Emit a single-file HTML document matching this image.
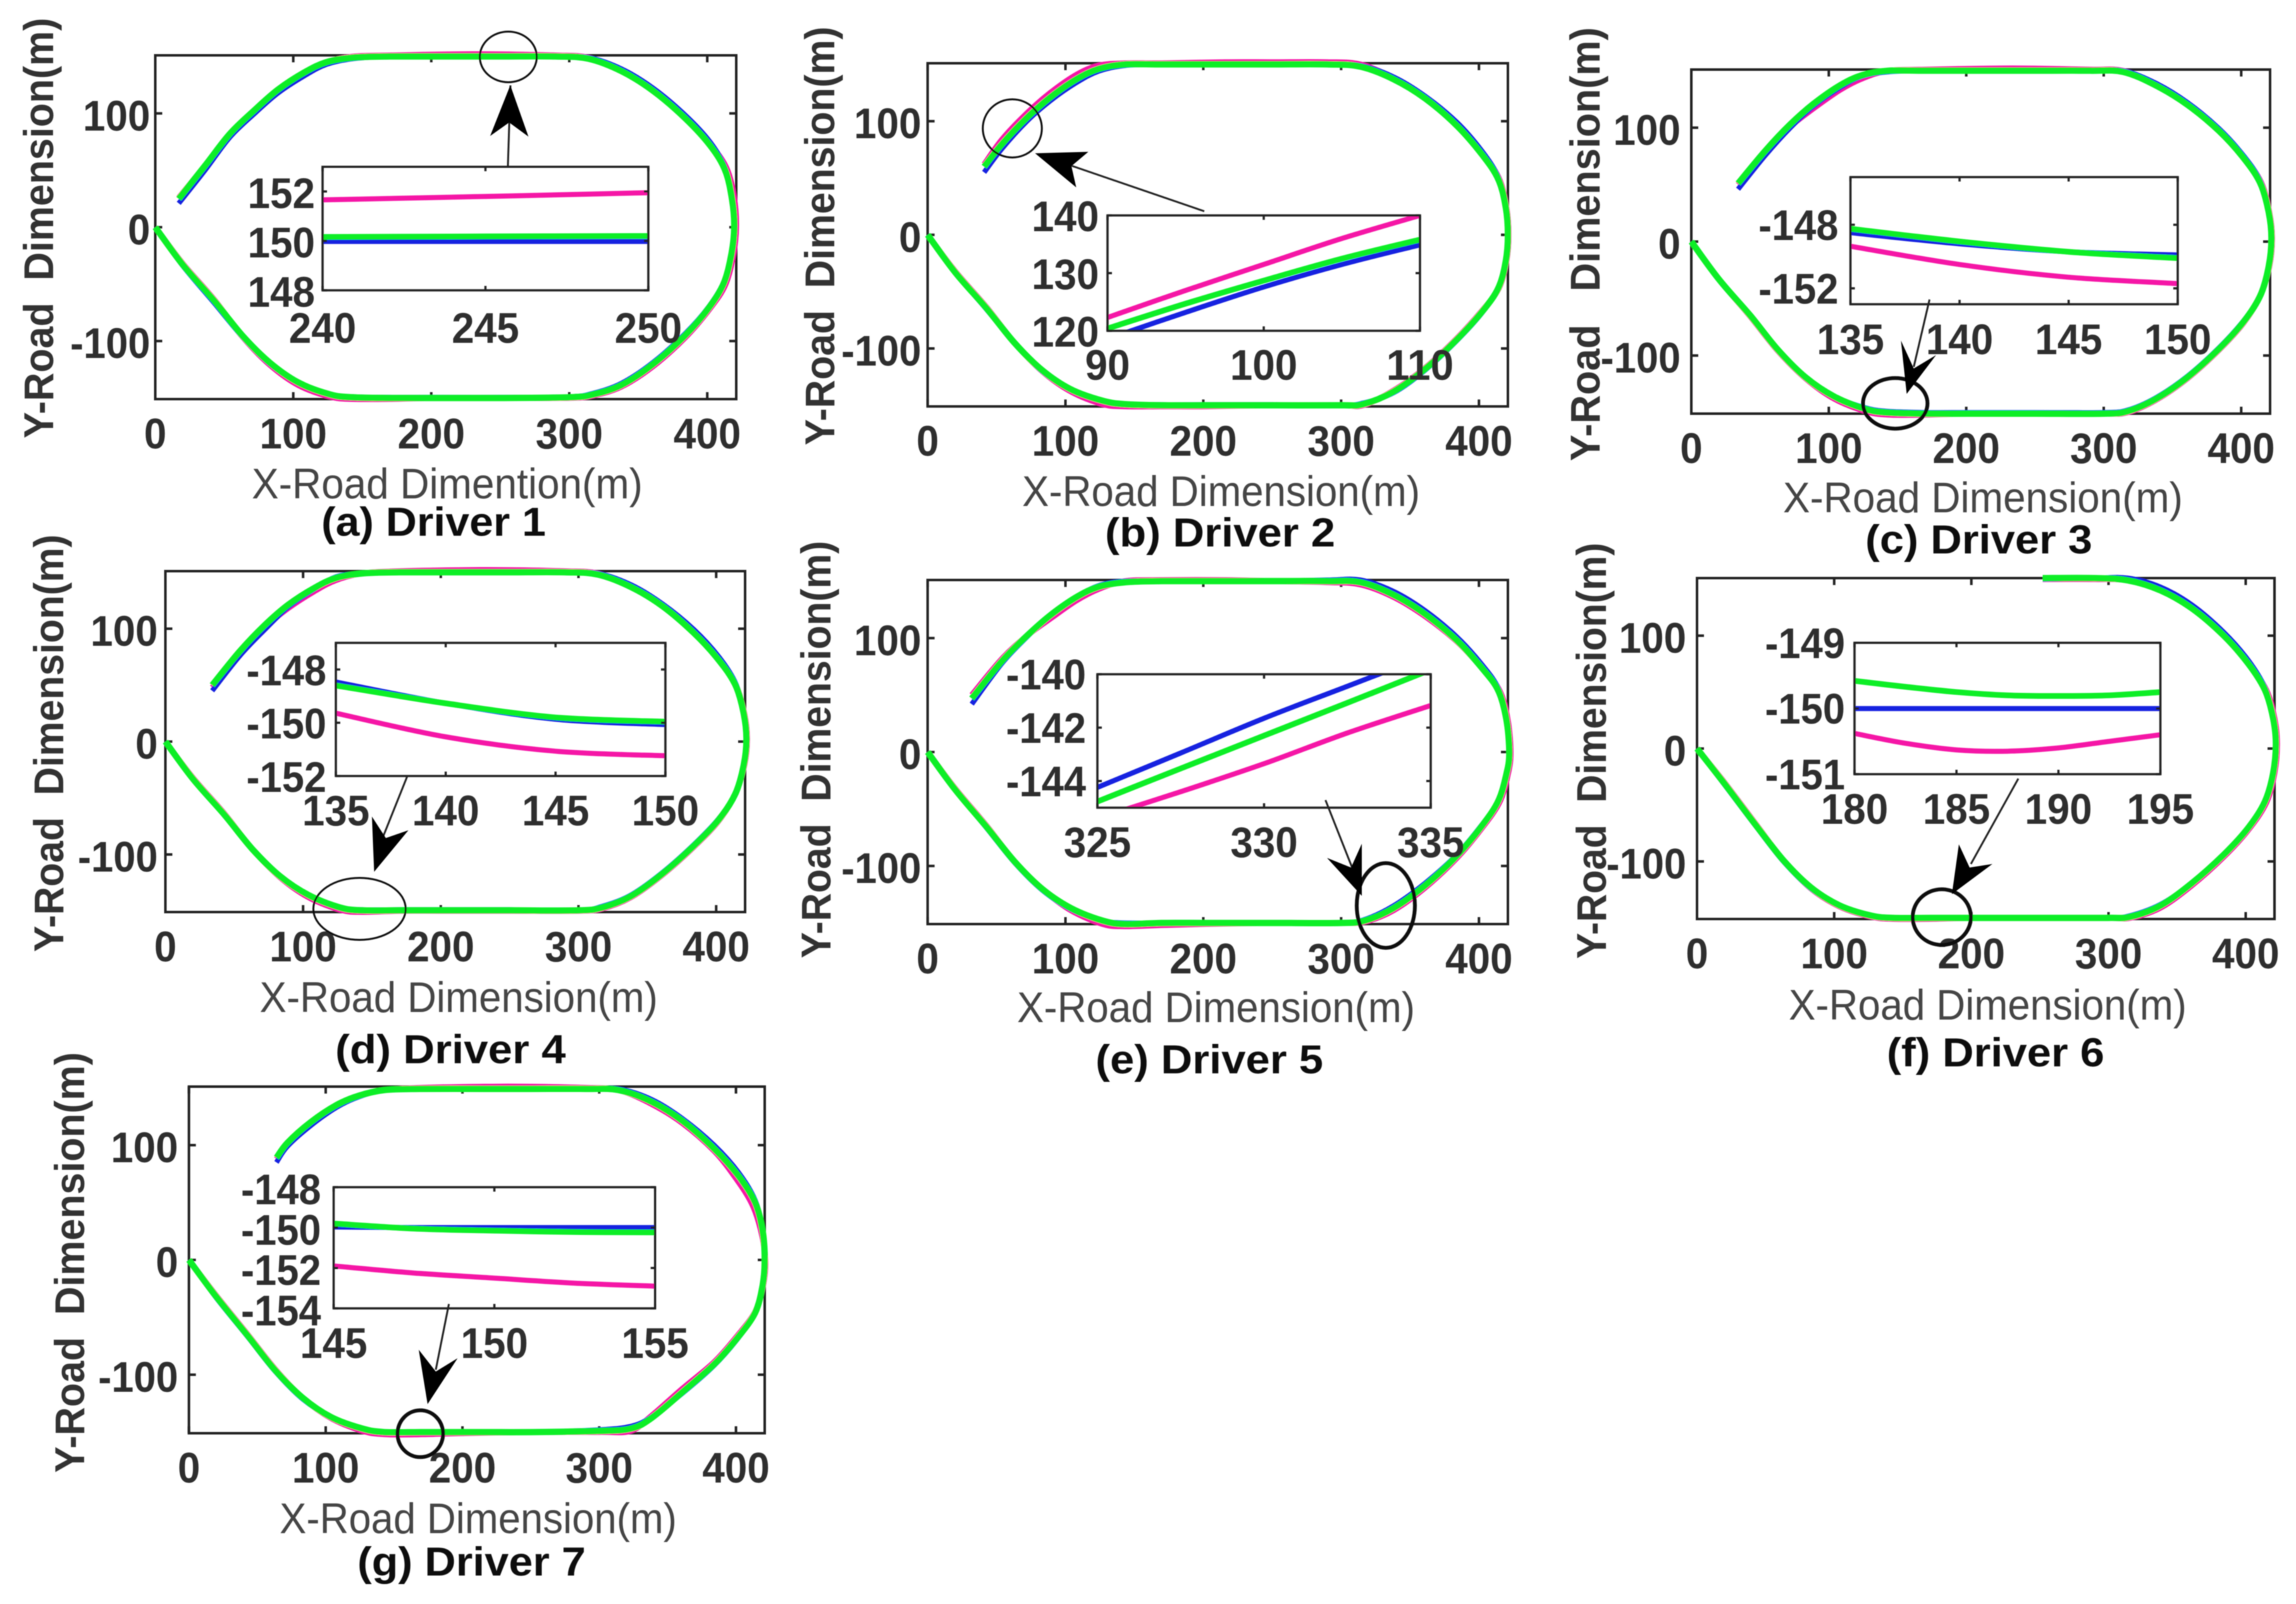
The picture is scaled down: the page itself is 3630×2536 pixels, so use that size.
<!DOCTYPE html>
<html lang="en">
<head>
<meta charset="utf-8">
<title>Driver trajectories</title>
<style>
html,body{margin:0;padding:0;background:#fff;}
svg{display:block;}
text{font-family:"Liberation Sans",Arial,sans-serif;}
</style>
</head>
<body>
<svg id="figure" xmlns="http://www.w3.org/2000/svg" width="3630" height="2536" viewBox="0 0 3630 2536">
<defs id="defs"><filter id="soft" filterUnits="userSpaceOnUse" x="0" y="0" width="3630" height="2536"><feGaussianBlur stdDeviation="0.9"/></filter></defs>
<rect width="3630" height="2536" fill="#fff"/>
<g id="root" filter="url(#soft)"></g>
</svg>
<script>
// Shared axis values
const mainXTicks=[0,100,200,300,400];
const mainYTicks=[-100,0,100];

// Driver 1 main trajectory
const d1X=[0,20,43,63,83,104,127,143,170,202,250,300,317,338,361,384,401,412,417.6,419.6,418,413,402,384,361,338,314,290,250,216,170,143,124,108,89,72,54,36,17];
const d1MagentaX=[0,20,43,63,83,104,127,143,170,202,250,300,317,338,361,384,401,413,419,421,419.5,414,402,384,361,338,314,290,250,216,170,143,124,108,89,72,54,36,17];
const d1Green=[0,-33,-65,-95,-119,-136.6,-147,-149.4,-150,-150,-150,-149.4,-147,-138.5,-120,-95,-71,-49,-23,0.4,24,50,72,95.7,119.6,137,148,150,150,150,150,149,145,136,121,103,82,54,25];
const d1Blue=[0,-34,-67,-96,-120,-137,-147,-149,-149.5,-149.5,-149.5,-149,-146,-137,-118.5,-93.5,-70,-48,-23,0.4,25,52,75,98.5,122,139,149,150,150,150,150,148,143,133,118,100,79,50,21];
const d1Magenta=[0,-32,-64,-96,-121,-139,-149,-151,-151,-150,-150,-150,-148,-140,-122,-97,-73,-51,-24,0.4,26,52,73,96,120,137.5,149,151,152,152,151,150,145,135,120,103,82,54,26];
// Driver 2 main trajectory
const d2X=[0,20,43,63,83,104,127,143,170,202,250,300,316,338,361,384,402,414,419.5,421,419.5,414,402,384,361,338,314,290,250,216,170,143,124,108,89,72,54,41];
const d2MagentaX=[0,20,43,63,83,104,127,143,170,202,250,300,316,338,361,384,402,414.5,420,421.5,420,414.5,402,384,361,338,314,290,250,216,170,143,124,108,89,72,54,41];
const d2Green=[0,-33,-65,-95,-119,-136,-146,-149,-150,-150,-150,-150,-149,-138,-118,-92,-68,-47,-23,0,24,49,71,96,120,137,148,150,150,150,150,150,146,137,121,103,80,60];
const d2Blue=[0,-33,-66,-95,-120,-136,-146,-149,-149.5,-149.5,-149.5,-150,-148,-139,-119,-93,-69,-47,-23,0,25,51,74,99,122,139,149,150,150,150,150,149,144,134,118,100,76,55];
const d2Magenta=[0,-32,-64,-95,-120,-138,-149,-151,-151,-151,-150,-150,-150,-137,-117,-91,-67,-47,-23,0,24,50,72,97,121,138,150,152,152,152,151,151,149,141,125,107,84,62];
// Driver 3 main trajectory
const d3X=[0,20,43,63,83,104,127,143,170,202,250,300,317,338,361,384,402,414,420,422,420,414,402,384,361,338,314,290,250,216,170,143,124,108,89,72,54,34];
const d3MagentaX=[0,20,43,63,83,104,127,143,170,202,250,300,317,338,361,384,402,414,420.5,422.5,420.5,414.5,402,384,361,338,314,290,250,216,170,143,124,108,89,72,54,34];
const d3Green=[0,-33,-65,-95,-119,-136,-147,-150,-151,-151,-151,-151,-149,-138,-119,-94,-70,-47,-22,3,26,51,73,97,120,137,149,150,150,150,150,150,146,137,121,103,80,51];
const d3Blue=[0,-33,-65,-95,-119,-136,-146,-149,-150,-150,-150,-150,-148,-137,-118,-93,-69,-47,-22,3,27,53,75,99,122,139,150,150,150,150,150,149,145,135,119,100,76,46];
const d3Magenta=[0,-33,-66,-96,-120,-138,-149,-152,-152,-151,-151,-151,-150,-139,-120,-95,-71,-47,-22,3,26,52,74,98,121,138,150,151,152,152,151,150,143,133,117,101,79,50];
// Driver 4 main trajectory
const d4X=[0,20,43,63,83,104,127,143,170,202,250,300,317,338,361,384,402,414,420,422,420,414,402,384,361,338,314,290,250,216,170,143,124,108,89,72,54,34];
const d4MagentaX=[0,20,43,63,83,104,127,143,170,202,250,300,317,338,361,384,402,414,420.5,422.5,420.5,414,402,384,361,338,314,290,250,216,170,143,124,108,89,72,54,34];
const d4Green=[0,-33,-65,-95,-119,-136,-147,-149.5,-149.5,-149.5,-149.5,-149.5,-147,-137,-117,-92,-69,-46,-21,2,25,50,72,96,120,137,148,150,150,150,150,149,145,136,121,103,80,50];
const d4Blue=[0,-33,-65,-95,-119,-136,-147,-149,-149,-149,-149,-149.5,-146,-136,-116,-91,-68,-46,-21,2,26,52,75,99,122,139,149,150,150,150,150,149,146,135,119,99,76,45];
const d4Magenta=[0,-32,-64,-95,-120,-138,-149,-151,-150,-150,-150,-150,-148,-138,-118,-93,-70,-46,-21,2,25,51,73,97,121,138,149,151,152,152,151,149,143,133,118,101,79,48];
// Driver 5 main trajectory
const d5X=[0,20,43,63,83,104,127,143,170,202,250,300,317,338,361,384,402,414,420,422,420,414,402,384,361,338,314,290,250,216,170,143,124,108,89,72,54,32];
const d5MagentaX=[0,20,43,63,83,104,127,143,170,202,250,300,317,338,361,384,402,415,421,423,421,415,402,384,361,338,314,290,250,216,170,143,124,108,89,72,54,32];
const d5Green=[0,-33,-66,-96,-120,-137,-148,-151,-150,-150,-150,-150,-148,-137,-117,-91,-65,-43,-19,-1,28,54,74,98,121,138,149,150,150,150,150,149,145,136,120,102,80,47];
const d5Blue=[0,-33,-67,-97,-121,-138,-148,-150,-150,-150,-150,-150,-147,-135,-115,-90,-64,-43,-19,-1,29,56,77,101,124,141,151,151,150,150,150,150,146,136,120,101,78,42];
const d5Magenta=[0,-32,-65,-96,-120,-139,-151,-153,-152,-151,-150,-150,-149,-139,-119,-93,-67,-44,-20,-1,28,54,74,97,119,136,147,149,150,151,151,150,143,133,117,102,82,50];
// Driver 6 main trajectory
const d6X=[0,20,43,63,83,104,127,143,170,202,250,300,316,338,361,384,402,414,420,422,420,414,402,384,361,338,314,290,252];
const d6MagentaX=[0,20,43,63,83,104,127,143,170,202,250,300,316,338,361,384,402,415,421,423,421,415,402,384,361,338,314,290,252];
const d6Green=[0,-31,-68,-99,-123,-139,-148,-150,-150,-150,-150,-150,-149,-139,-119,-94,-70,-47,-22,4,27,52,75,100,124,140,149,151,151];
const d6Blue=[0,-32,-69,-100,-124,-139,-148,-150,-150,-150,-150,-150,-148,-138,-119,-94,-70,-47,-22,4,28,54,78,103,127,143,151,151,150];
const d6Magenta=[0,-30,-67,-99,-124,-140,-149,-151,-151,-150,-150,-150,-150,-141,-121,-96,-72,-48,-22,4,27,52,75,100,124,140,149,150,150];
// Driver 7 main trajectory
const d7X=[0,20,43,63,83,104,127,143,170,202,250,300,323,338,361,384,401,414,419.5,421,419.5,414,402,384,361,338,314,290,250,216,170,143,124,108,89,72,64];
const d7MagentaX=[0,20,43,63,83,104,127,143,170,202,250,300,323,338,361,384,401,414,420,421.5,418.5,412,400,384,361,338,314,290,250,216,170,143,124,108,89,72,64];
const d7Green=[0,-32,-66,-96,-120,-137,-147,-150,-150,-150,-150,-149,-147,-138,-115,-91,-68,-46,-22,0,25,50,73,97,121,138,148,149,149,149,149,148,143,135,120,102,89];
const d7Blue=[0,-33,-67,-97,-121,-137,-147,-150,-150,-150,-150,-148,-145,-137,-116,-92,-69,-46,-22,0,26,52,76,100,123,140,149,149,149,149,149,148,142,133,117,99,85];
const d7Magenta=[0,-31,-65,-95,-120,-138,-149,-152,-152,-151,-150,-150,-149,-136,-112,-89,-66,-45,-22,0,24,48,71,95,119,136,148,150,151,151,150,148,143,135,120,102,88];

// Inset (a)
const i1X=[240,245,250];
const i1Green=[150.16,150.18,150.2];
const i1Blue=[149.98,149.98,149.98];
const i1Magenta=[151.66,151.8,151.95];
const i1XTicks=[240,245,250];
const i1YTicks=[148,150,152];
// Inset (b)
const i2X=[90,95,100,105,110];
const i2Green=[120.4,124.7,128.7,132.5,135.8];
const i2Blue=[118.6,123.2,127.6,131.5,134.9];
const i2Magenta=[122.3,127,131.5,136,140];
const i2XTicks=[90,100,110];
const i2YTicks=[120,130,140];
// Inset (c)
const i3X=[135,140,145,150];
const i3Green=[-148.25,-149.05,-149.7,-150.1];
const i3Blue=[-148.5,-149.2,-149.7,-149.9];
const i3Magenta=[-149.35,-150.5,-151.3,-151.7];
const i3XTicks=[135,140,145,150];
const i3YTicks=[-148,-152];
// Inset (d)
const i4X=[135,140,145,150];
const i4Green=[-148.6,-149.27,-149.8,-149.96];
const i4Blue=[-148.47,-149.27,-149.87,-150.07];
const i4Magenta=[-149.64,-150.53,-151.07,-151.24];
const i4XTicks=[135,140,145,150];
const i4YTicks=[-148,-150,-152];
// Inset (e)
const i5X=[325,327.5,330,332.5,335];
const i5Green=[-144.77,-143.53,-142.3,-141.07,-139.83];
const i5Blue=[-144.24,-142.95,-141.65,-140.45,-139.25];
const i5Magenta=[-145.4,-144.4,-143.35,-142.2,-141.17];
const i5XTicks=[325,330,335];
const i5YTicks=[-140,-142,-144];
// Inset (f)
const i6X=[180,182.5,185,187.5,190,192.5,195];
const i6Green=[-149.58,-149.67,-149.75,-149.8,-149.81,-149.8,-149.75];
const i6Blue=[-150,-150,-150,-150,-150,-150,-150];
const i6Magenta=[-150.38,-150.53,-150.63,-150.65,-150.6,-150.5,-150.4];
const i6XTicks=[180,185,190,195];
const i6YTicks=[-149,-150,-151];
// Inset (g)
const i7X=[145,147.5,150,152.5,155];
const i7Green=[-149.8,-150.05,-150.15,-150.22,-150.24];
const i7Blue=[-149.97,-150,-150,-150,-150];
const i7Magenta=[-151.9,-152.25,-152.5,-152.75,-152.9];
const i7XTicks=[145,150,155];
const i7YTicks=[-148,-150,-152,-154];

const xMin=0, xMax=421, yMin=-151, yMax=151;
const COLORS={magenta:'#f516a6',blue:'#1222e0',green:'#08ee26'};
const NS='http://www.w3.org/2000/svg';
const root=document.getElementById('root');
const defs=document.getElementById('defs');

function svgEl(tag,attrs,parent){
  const el=document.createElementNS(NS,tag);
  for(const k in attrs){el.setAttribute(k,attrs[k]);}
  parent.appendChild(el);
  return el;
}
function smooth(pts){
  let d='M'+pts[0][0].toFixed(1)+' '+pts[0][1].toFixed(1);
  for(let i=0;i<pts.length-1;i++){
    const p0=pts[Math.max(i-1,0)],p1=pts[i],p2=pts[i+1],p3=pts[Math.min(i+2,pts.length-1)];
    const c1x=p1[0]+(p2[0]-p0[0])/6,c1y=p1[1]+(p2[1]-p0[1])/6;
    const c2x=p2[0]-(p3[0]-p1[0])/6,c2y=p2[1]-(p3[1]-p1[1])/6;
    d+='C'+c1x.toFixed(1)+' '+c1y.toFixed(1)+' '+c2x.toFixed(1)+' '+c2y.toFixed(1)+' '+p2[0].toFixed(1)+' '+p2[1].toFixed(1);
  }
  return d;
}
function label(parent,str,x,y,w,size,weight,fill,rotate){
  const attrs={'font-size':size,'font-weight':weight,fill:fill,textLength:w,lengthAdjust:'spacingAndGlyphs'};
  if(rotate){attrs.transform='translate('+x+' '+y+') rotate(-90)';attrs.x=0;attrs.y=0;}
  else{attrs.x=x;attrs.y=y;}
  const t=svgEl('text',attrs,parent);
  t.setAttribute('xml:space','preserve');
  t.style.whiteSpace='pre';
  t.textContent=str;
  return t;
}
function numW(s){
  const str=String(s);
  const digits=str.replace('-','').length;
  return digits*35.5+(str[0]==='-'?20:0);
}
function drawBox(g,p,tick,sw,xs,ys,xScale,yScale){
  const box=svgEl('rect',{x:p.left,y:p.top,width:p.right-p.left,height:p.bottom-p.top,fill:'none',stroke:'#222','stroke-width':sw},g);
  
  
  xs.forEach(v=>{
    const x=xScale(v);
    const t1=svgEl('line',{x1:x,x2:x,y1:p.bottom,y2:p.bottom-tick,stroke:'#222','stroke-width':sw},g);
    
    
    const t2=svgEl('line',{x1:x,x2:x,y1:p.top,y2:p.top+tick,stroke:'#222','stroke-width':sw},g);
    
    
  });
  ys.forEach(v=>{
    const y=yScale(v);
    const t1=svgEl('line',{x1:p.left,x2:p.left+tick,y1:y,y2:y,stroke:'#222','stroke-width':sw},g);
    
    
    const t2=svgEl('line',{x1:p.right,x2:p.right-tick,y1:y,y2:y,stroke:'#222','stroke-width':sw},g);
    
    
  });
}
function drawTrack(g,xs,ys,color,width,xScale,yScale){
  const pts=xs.map((x,i)=>[xScale(x),yScale(ys[i])]);
  return svgEl('path',{d:smooth(pts),fill:'none',stroke:color,'stroke-width':width,'stroke-linecap':'butt','stroke-linejoin':'round'},g);
}

const panels=[
 {key:'a',caption:'(a) Driver 1',xTitle:'X-Road Dimention(m)',yTitle:'Y-Road  Dimension(m)',left:245.5,right:1164,top:87.5,bottom:631,yOff:-8,
  x:d1X,mx:d1MagentaX,green:d1Green,blue:d1Blue,magenta:d1Magenta,
  xt:[398,788,618],cap:[508,847,355],yt:[84,693,665],
  ins:{left:510,right:1025,top:263.7,bottom:459,xMin:240,xMax:250,yMin:148,yMax:153,x:i1X,green:i1Green,blue:i1Blue,magenta:i1Magenta,xTicks:i1XTicks,yTicks:i1YTicks,xBase:83,yOff:-12,yBase:26},
  ell:[803.6,90,45,40,3],line:[803,263,807,135],head:[806.8,134.7,774.9,215,805,193.6,835.5,216]},
 {key:'b',caption:'(b) Driver 2',xTitle:'X-Road Dimension(m)',yTitle:'Y-Road  Dimension(m)',left:1466.6,right:2384,top:100,bottom:642.6,yOff:-10,
  x:d2X,mx:d2MagentaX,green:d2Green,blue:d2Blue,magenta:d2Magenta,
  xt:[1616,800,629],cap:[1747,864,364],yt:[1319,704,662],
  ins:{left:1751,right:2245,top:340.6,bottom:523,xMin:90,xMax:110,yMin:120,yMax:140,x:i2X,green:i2Green,blue:i2Blue,magenta:i2Magenta,xTicks:i2XTicks,yTicks:i2YTicks,xBase:77.5,yOff:-13.5,yBase:25},
  ell:[1600.5,203,46.7,46,3],line:[1904,334,1694,262],head:[1636.5,242.4,1720.7,240,1693.9,262.6,1701.5,296.3]},
 {key:'c',caption:'(c) Driver 3',xTitle:'X-Road Dimension(m)',yTitle:'Y-Road   Dimension(m)',left:2674,right:3589,top:110,bottom:654,yOff:-17,
  x:d3X,mx:d3MagentaX,green:d3Green,blue:d3Blue,magenta:d3Magenta,
  xt:[2819,810,632],cap:[2949,875,359],yt:[2529,729,686],
  ins:{left:2925.6,right:3443,top:280,bottom:481,xMin:135,xMax:150,yMin:-153,yMax:-145,x:i3X,green:i3Green,blue:i3Blue,magenta:i3Magenta,xTicks:i3XTicks,yTicks:i3YTicks,xBase:79,yOff:-19,yBase:24},
  ell:[2996.4,637.7,51,40,6],line:[3050.6,473.5,3025.7,580],head:[3014.5,622.8,3005.4,538.4,3025.7,582.6,3061,561.4]},
 {key:'d',caption:'(d) Driver 4',xTitle:'X-Road Dimension(m)',yTitle:'Y-Road  Dimension(m)',left:261.5,right:1178,top:903,bottom:1442,yOff:-12,
  x:d4X,mx:d4MagentaX,green:d4Green,blue:d4Blue,magenta:d4Magenta,
  xt:[410.5,1600,629.5],cap:[530,1681,364.5],yt:[100,1505,660],
  ins:{left:531,right:1052,top:1016.4,bottom:1226.9,xMin:135,xMax:150,yMin:-152,yMax:-147,x:i4X,green:i4Green,blue:i4Blue,magenta:i4Magenta,xTicks:i4XTicks,yTicks:i4YTicks,xBase:78,yOff:-15,yBase:25},
  ell:[568.4,1437,73,49,3],line:[644,1227,606,1322],head:[591.5,1378.4,588,1291,610,1325,645.7,1312.7]},
 {key:'e',caption:'(e) Driver 5',xTitle:'X-Road Dimension(m)',yTitle:'Y-Road  Dimension(m)',left:1466.6,right:2384,top:917,bottom:1461,yOff:-10,
  x:d5X,mx:d5MagentaX,green:d5Green,blue:d5Blue,magenta:d5Magenta,
  xt:[1608,1616,629],cap:[1732,1697,360],yt:[1313,1515,660],
  ins:{left:1735,right:2262,top:1066,bottom:1277,xMin:325,xMax:335,yMin:-145,yMax:-140,x:i5X,green:i5Green,blue:i5Blue,magenta:i5Magenta,xTicks:i5XTicks,yTicks:i5YTicks,xBase:78,yOff:-18,yBase:24},
  ell:[2191,1431.6,46,67,6],line:[2095.6,1265,2137.7,1371.6],head:[2153,1416.4,2098,1356.4,2136,1371.6,2153,1334]},
 {key:'f',caption:'(f) Driver 6',xTitle:'X-Road Dimension(m)',yTitle:'Y-Road  Dimension(m)',left:2683,right:3596,top:914,bottom:1453,yOff:-17,
  x:d6X,mx:d6MagentaX,green:d6Green,blue:d6Blue,magenta:d6Magenta,
  xt:[2828,1612,629],cap:[2983,1686,344],yt:[2539,1516,658],
  ins:{left:2932,right:3415.6,top:1016.3,bottom:1224,xMin:180,xMax:195,yMin:-151,yMax:-149,x:i6X,green:i6Green,blue:i6Blue,magenta:i6Magenta,xTicks:i6XTicks,yTicks:i6YTicks,xBase:78.5,yOff:-15,yBase:24},
  ell:[3070,1450,46,44,6],line:[3191,1231,3116,1366],head:[3086,1413.6,3097,1335,3114,1371.6,3150,1366]},
 {key:'g',caption:'(g) Driver 7',xTitle:'X-Road Dimension(m)',yTitle:'Y-Road  Dimension(m)',left:298.7,right:1209,top:1718,bottom:2266,yOff:-17,
  x:d7X,mx:d7MagentaX,green:d7Green,blue:d7Blue,magenta:d7Magenta,
  xt:[442,2424,628],cap:[565,2491,361],yt:[133,2328.5,665],
  ins:{left:527.5,right:1035.7,top:1877,bottom:2068.6,xMin:145,xMax:155,yMin:-154,yMax:-148,x:i7X,green:i7Green,blue:i7Blue,magenta:i7Magenta,xTicks:i7XTicks,yTicks:i7YTicks,xBase:78.5,yOff:-20,yBase:27},
  ell:[664.5,2266.8,36,37,6],line:[709.7,2061.7,689,2165.7],head:[676,2220,662,2134,689,2168.5,723.5,2147.4]}
];

panels.forEach(p=>{
  const g=svgEl('g',{},root);
  
  
  const xScale=v=>p.left+(v-xMin)/(xMax-xMin)*(p.right-p.left);
  const yScale=v=>p.bottom-(v-yMin)/(yMax-yMin)*(p.bottom-p.top);

  drawBox(g,p,11,4,mainXTicks,mainYTicks,xScale,yScale);

  const m=drawTrack(g,p.mx,p.magenta,COLORS.magenta,9,xScale,yScale);
  
  
  const b=drawTrack(g,p.x,p.blue,COLORS.blue,8,xScale,yScale);
  
  
  const gr=drawTrack(g,p.x,p.green,COLORS.green,10,xScale,yScale);
  
  

  mainXTicks.forEach(v=>{
    const w=numW(v);
    const t=label(g,String(v),xScale(v)-w/2,p.bottom+78,w,68,'bold','#2e2e2e');
    
    
  });
  mainYTicks.forEach(v=>{
    const w=numW(v);
    const t=label(g,String(v),p.left+p.yOff-w,yScale(v)+27,w,68,'bold','#2e2e2e');
    
    
  });

  const xTitle=label(g,p.xTitle,p.xt[0],p.xt[1],p.xt[2],68,'normal','#444');
  
  
  const yTitle=label(g,p.yTitle,p.yt[0],p.yt[1],p.yt[2],66,'bold','#333',true);
  
  
  const cap=label(g,p.caption,p.cap[0],p.cap[1],p.cap[2],64,'bold','#111');
  
  

  // inset
  const q=p.ins;
  const ig=svgEl('g',{},g);
  
  
  const ix=v=>q.left+(v-q.xMin)/(q.xMax-q.xMin)*(q.right-q.left);
  const iy=v=>q.bottom-(v-q.yMin)/(q.yMax-q.yMin)*(q.bottom-q.top);
  const clip=svgEl('clipPath',{id:'clip-'+p.key},defs);
  svgEl('rect',{x:q.left,y:q.top,width:q.right-q.left,height:q.bottom-q.top},clip);
  const lines=svgEl('g',{'clip-path':'url(#clip-'+p.key+')'},ig);
  
  
  const im=drawTrack(lines,q.x,q.magenta,COLORS.magenta,8,ix,iy);
  
  
  const ib=drawTrack(lines,q.x,q.blue,COLORS.blue,8,ix,iy);
  
  
  const ign=drawTrack(lines,q.x,q.green,COLORS.green,9,ix,iy);
  
  
  drawBox(ig,q,7,3.5,q.xTicks,q.yTicks,ix,iy);
  q.xTicks.forEach(v=>{
    const w=numW(v);
    const t=label(ig,String(v),ix(v)-w/2,q.bottom+q.xBase,w,68,'bold','#2e2e2e');
    
    
  });
  q.yTicks.forEach(v=>{
    const w=numW(v);
    const t=label(ig,String(v),q.left+q.yOff-w,iy(v)+q.yBase,w,68,'bold','#2e2e2e');
    
    
  });

  // annotation
  const ell=svgEl('ellipse',{cx:p.ell[0],cy:p.ell[1],rx:p.ell[2],ry:p.ell[3],fill:'none',stroke:'#111','stroke-width':p.ell[4]},g);
  
  
  const ln=svgEl('line',{x1:p.line[0],y1:p.line[1],x2:p.line[2],y2:p.line[3],stroke:'#222','stroke-width':3},g);
  
  
  const h=p.head;
  const hd=svgEl('polygon',{points:h[0]+','+h[1]+' '+h[2]+','+h[3]+' '+h[4]+','+h[5]+' '+h[6]+','+h[7],fill:'#000'},g);
  
  
});
</script>
</body>
</html>
